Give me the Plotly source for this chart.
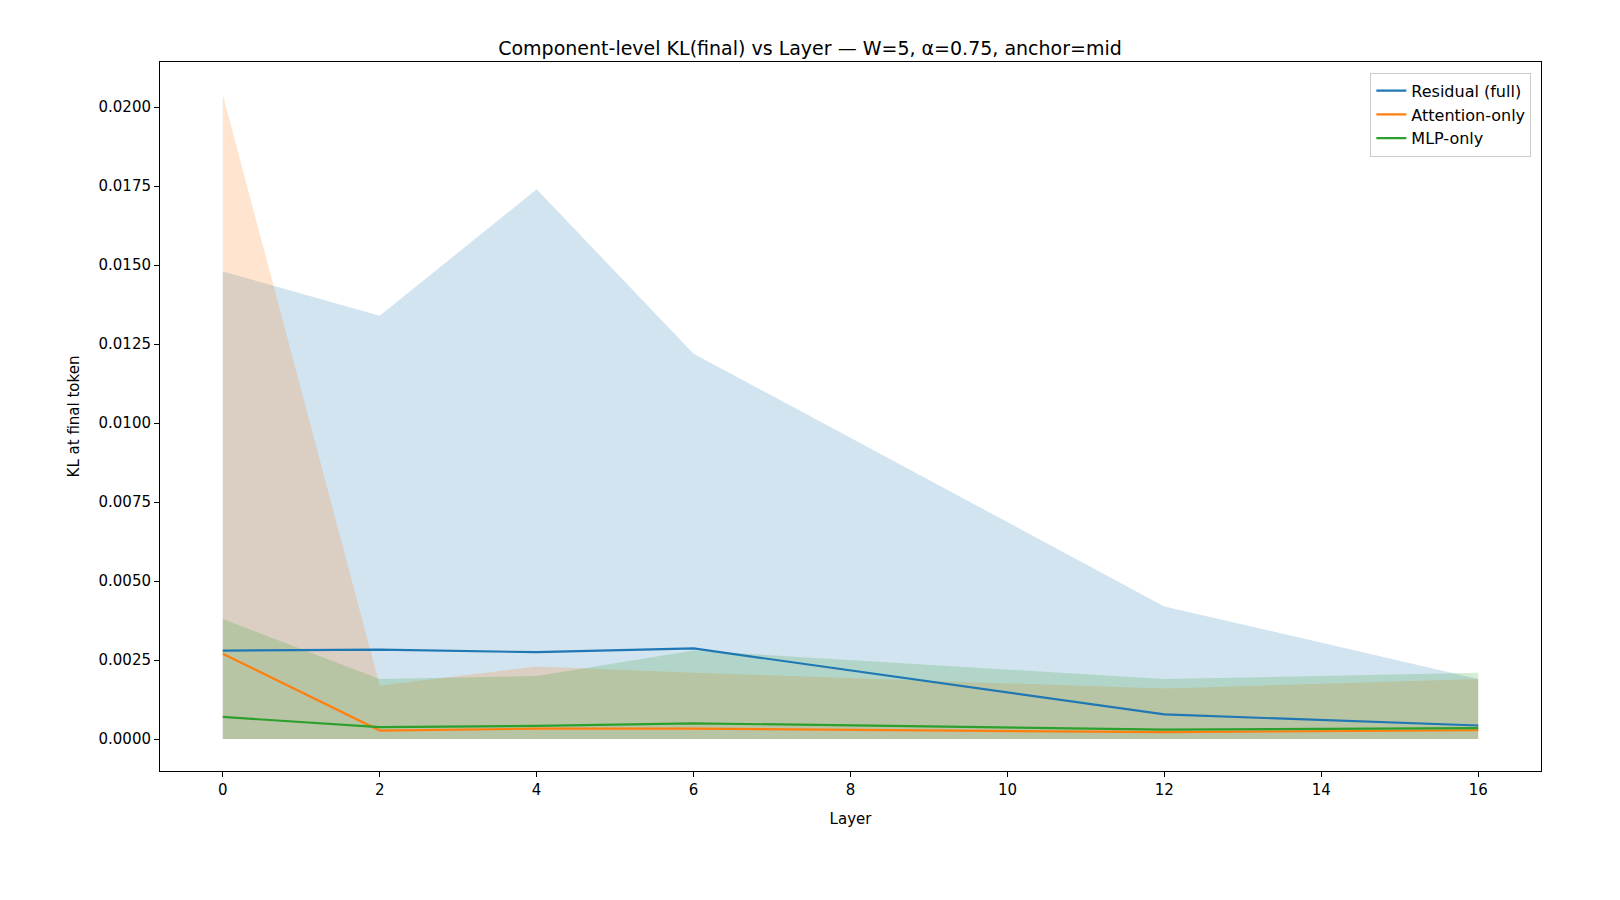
import plotly.graph_objects as go

layers = [0, 2, 4, 6, 12, 16]

resid_mean = [0.00280, 0.00283, 0.00275, 0.00287, 0.00078, 0.00043]
resid_lo = [0.0, 0.0, 0.0, 0.0, 0.0, 0.0]
resid_hi = [0.0148, 0.0134, 0.0174, 0.0122, 0.0042, 0.0019]

attn_mean = [0.00270, 0.00027, 0.00033, 0.00033, 0.00022, 0.00028]
attn_lo = [0.0, 0.0, 0.0, 0.0, 0.0, 0.0]
attn_hi = [0.0204, 0.0017, 0.0023, 0.0021, 0.0016, 0.0019]

mlp_mean = [0.00070, 0.00038, 0.00042, 0.00050, 0.00030, 0.00035]
mlp_lo = [0.0, 0.0, 0.0, 0.0, 0.0, 0.0]
mlp_hi = [0.0038, 0.0019, 0.0020, 0.0028, 0.0019, 0.0021]

series = [
    ("Residual (full)", resid_mean, resid_lo, resid_hi, "#1f77b4", "rgba(31,119,180,0.2)"),
    ("Attention-only", attn_mean, attn_lo, attn_hi, "#ff7f0e", "rgba(255,127,14,0.2)"),
    ("MLP-only", mlp_mean, mlp_lo, mlp_hi, "#2ca02c", "rgba(44,160,44,0.2)"),
]

fig = go.Figure()
# shaded bands first
for name, m, lo, hi, c, fc in series:
    fig.add_trace(go.Scatter(x=layers + layers[::-1], y=hi + lo[::-1], fill="toself",
                             mode="lines", fillcolor=fc, line=dict(width=0),
                             hoverinfo="skip", showlegend=False))
for name, m, lo, hi, c, fc in series:
    fig.add_trace(go.Scatter(x=layers, y=m, mode="lines", name=name,
                             line=dict(color=c, width=2.2)))

axis_common = dict(showgrid=False, zeroline=False, showline=True, mirror=True,
                   linecolor="black", linewidth=1, ticks="outside", ticklen=5,
                   tickcolor="black", tickfont=dict(size=15, color="black"))

fig.update_layout(
    width=1604, height=884,
    paper_bgcolor="white", plot_bgcolor="white",
    font=dict(family="DejaVu Sans", color="black"),
    title=dict(text="Component-level KL(final) vs Layer — W=5, α=0.75, anchor=mid",
               x=0.5, xanchor="center", y=0.962, font=dict(size=19)),
    margin=dict(l=152, r=71, t=54, b=121),
    xaxis=dict(range=[-0.8, 16.8], tickvals=list(range(0, 17, 2)),
               title=dict(text="Layer", font=dict(size=15)), **axis_common),
    yaxis=dict(range=[-0.00101, 0.02143], tickvals=[i * 0.0025 for i in range(9)],
               tickformat=".4f", title=dict(text="KL at final token", font=dict(size=15)),
               **axis_common),
    legend=dict(x=0.993, y=0.985, xanchor="right", yanchor="top",
                bordercolor="#cccccc", borderwidth=1, bgcolor="rgba(255,255,255,0.8)",
                font=dict(size=16)),
)

fig.write_html("out.html")
